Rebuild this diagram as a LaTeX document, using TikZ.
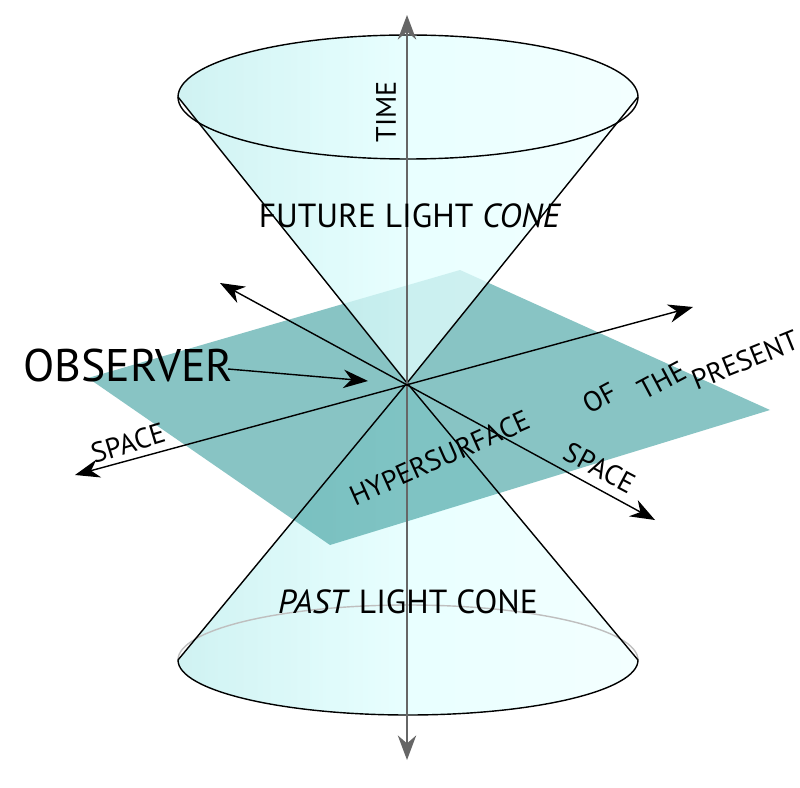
\documentclass[tikz,border=0pt]{standalone}
\usepackage{fontspec}
\setmainfont{PT Sans}
\usetikzlibrary{arrows.meta}
\begin{document}
\begin{tikzpicture}[x=0.01cm,y=-0.01cm,
  cone/.style={left color=cyan!45!teal!25,right color=cyan!6,middle color=cyan!12,fill opacity=0.75},
  axis/.style={thin,{Stealth[length=7pt]}-{Stealth[length=7pt]}},
  lbl/.style={font=\fontsize{8}{10}\selectfont,inner sep=0pt}]
  \useasboundingbox (0,0) rectangle (800,788);
  \coordinate (o) at (407,383);
  % past cone
  \path[cone] (o) -- (178,660) arc[start angle=180,end angle=0,x radius=230,y radius=55] -- cycle;
  \draw[black!25] (178,660) arc[start angle=180,end angle=360,x radius=230,y radius=55];
  \draw[thin] (178,660) arc[start angle=180,end angle=0,x radius=230,y radius=55];
  % hypersurface
  \path[fill=teal!60!cyan!55!gray,fill opacity=0.6] (88,378) -- (460,270) -- (770,410) -- (330,545) -- cycle;
  % future cone
  \path[cone] (o) -- (178,97) arc[start angle=180,end angle=0,x radius=230,y radius=62] -- cycle
    (408,97) ellipse[x radius=230,y radius=62];
  \draw[thin] (408,97) ellipse[x radius=230,y radius=62];
  \draw[thin] (o) -- (178,97) (o) -- (638,97);
  \draw[thin] (o) -- (178,660) (o) -- (638,660);
  % axes
  \coordinate (t1) at (407,15); \coordinate (t2) at (407,760);
  \coordinate (s1) at (75,475); \coordinate (s2) at (693,307);
  \coordinate (s3) at (220,283); \coordinate (s4) at (655,520);
  \draw[axis,black!60] (t1) -- (t2);
  \draw[axis] (s1) -- (s2);
  \draw[axis] (s3) -- (s4);
  % labels
  \node[lbl,rotate=90] (time) at (386,112) {TIME};
  \node[lbl,font=\fontsize{9.5}{12}\selectfont] (fut) at (410,216) {FUTURE LIGHT \textit{CONE}};
  \node[lbl,font=\fontsize{9.5}{12}\selectfont] (past) at (408,602) {\textit{PAST} LIGHT CONE};
  \node[lbl,font=\fontsize{13}{16}\selectfont] (obs) at (128,365) {OBSERVER};
  \coordinate (oend) at (368,381);
  \draw[-{Stealth[length=7pt]}] (228,369) -- (oend);
  \node[lbl,rotate=17] (sp1) at (128,443) {SPACE};
  \node[lbl,rotate=-28] (sp2) at (600,468) {SPACE};
  \node[lbl,rotate=24] (hyp) at (440,458) {HYPERSURFACE};
  \node[lbl,rotate=28] (of) at (600,398) {OF};
  \node[lbl,rotate=28] (the) at (662,380) {THE};
  \node[lbl,rotate=22] (pres) at (745,360) {PRESENT};
\end{tikzpicture}
\end{document}
